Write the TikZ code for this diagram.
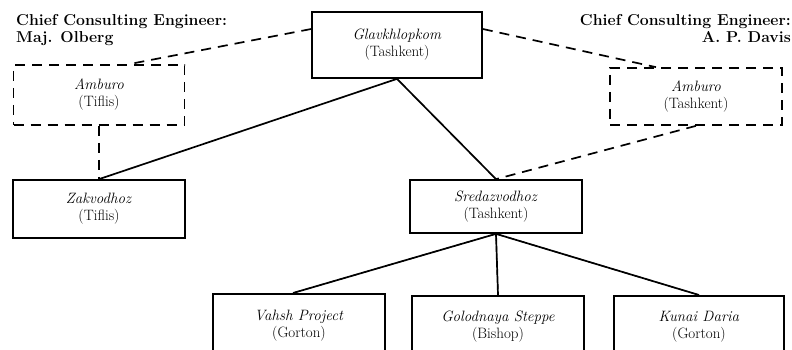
\documentclass[tikz,border=0pt]{standalone}
\usetikzlibrary{calc}
\begin{document}
\begin{tikzpicture}[x=1pt,y=-1pt,
  box/.style={draw,line width=1.7pt,rectangle,inner sep=0pt,align=center,
    font=\fontsize{15}{17}\selectfont},
  dbox/.style={box,dash pattern=on 10pt off 7pt},
  hdr/.style={inner sep=0pt,font=\fontsize{15.8}{17}\selectfont\bfseries},
  conn/.style={line width=1.7pt},
  dconn/.style={line width=1.7pt,dash pattern=on 10pt off 7pt},
  thin dash/.style={line width=1.1pt,dash pattern=on 7pt off 5pt}]
\useasboundingbox (0,0) rectangle (792,350);
\clip (0,0) rectangle (792,350);
\fill[white] (0,0) rectangle (792,350);

\node[hdr,anchor=north west,align=left] (hl) at (16,14) {Chief Consulting Engineer:\\Maj. Olberg};
\node[hdr,anchor=north east,align=right] (hr) at (791,14) {Chief Consulting Engineer:\\A. P. Davis};

\node[box,minimum width=170,minimum height=66] (glav) at (397,45) {\textit{Glavkhlopkom}\\(Tashkent)};
\node[dbox,minimum width=171,minimum height=60] (ambT) at (99,95) {\textit{Amburo}\\(Tiflis)};
\node[dbox,minimum width=172,minimum height=57] (ambK) at (696,96.5) {\textit{Amburo}\\(Tashkent)};
\node[box,minimum width=172,minimum height=58] (zak) at (99,209) {\textit{Zakvodhoz}\\(Tiflis)};
\node[box,minimum width=172,minimum height=53] (sred) at (496,206.5) {\textit{Sredazvodhoz}\\(Tashkent)};
\node[box,minimum width=172,minimum height=64,anchor=north] (vahsh) at (299,293) {\textit{Vahsh Project}\\(Gorton)};
\node[box,minimum width=172,minimum height=62,anchor=north] (golod) at (498,295) {\textit{Golodnaya Steppe}\\(Bishop)};
\node[box,minimum width=170,minimum height=62,anchor=north] (kunai) at (699,295) {\textit{Kunai Daria}\\(Gorton)};

\draw[conn] (glav.south) -- (zak.north);
\draw[conn] (glav.south) -- (sred.north);
\draw[dconn] ($(glav.west)+(0,-16)$) -- ($(ambT.north)+(30,0)$);
\draw[dconn] ($(glav.east)+(0,-16)$) -- ($(ambK.north)+(-40,0)$);
\draw[dconn] (ambT.south) -- (zak.north);
\draw[dconn] (ambK.south) -- (sred.north);

\draw[conn] (sred.south) -- ($(vahsh.north)+(-6,0)$);
\draw[thin dash,yshift=2.5pt] (sred.south) -- ($(vahsh.north)+(-6,0)$);
\draw[conn] (sred.south) -- (golod.north);
\draw[thin dash,xshift=2.5pt] (sred.south) -- (golod.north);
\draw[conn] (sred.south) -- (kunai.north);
\draw[thin dash,yshift=2.5pt] (sred.south) -- (kunai.north);
\end{tikzpicture}
\end{document}
